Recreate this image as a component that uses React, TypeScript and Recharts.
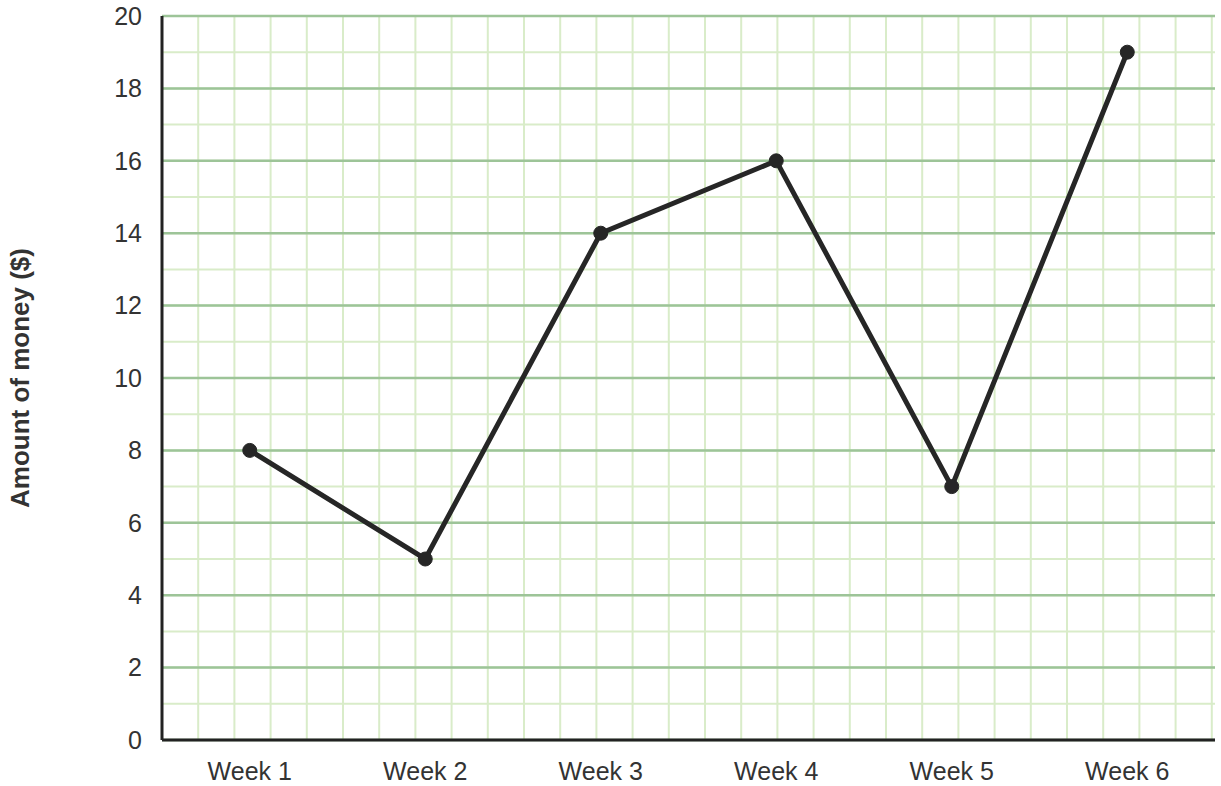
import { LineChart, Line, XAxis, YAxis, CartesianGrid, Label } from 'recharts';

const weeks = ['Week 1', 'Week 2', 'Week 3', 'Week 4', 'Week 5', 'Week 6'];
const money = [8, 5, 14, 16, 7, 19];
const majorTicks = [0, 2, 4, 6, 8, 10, 12, 14, 16, 18, 20];
const minorTicks = [0, 1, 2, 3, 4, 5, 6, 7, 8, 9, 10, 11, 12, 13, 14, 15, 16, 17, 18, 19, 20];

const data = weeks.map((w, i) => ({ week: w, amount: money[i] }));

const FONT = 'Arial, "Liberation Sans", Helvetica, sans-serif';

// map y values to pixels from the plot offset (domain is 0..20)
const yPixels = (ticks: number[]) => ({ offset }: any) =>
    ticks.map(t => offset.top + offset.height - (t / 20) * offset.height);

// square grid: vertical spacing equals one y-unit
const squareColumns = ({ offset }: any) => {
    const unit = offset.height / 20;
    const pts: number[] = [];
    for (let x = offset.left; x <= offset.left + offset.width + 0.5; x += unit) pts.push(x);
    return pts;
};

export default function App() {
    return (
        <div style={{ position: 'absolute', left: 0, top: 0, width: 1221, height: 786, background: '#fff' }}>
            <LineChart width={1221} height={786} data={data} margin={{ top: 16, right: 6, bottom: 16, left: 0 }}>
                <CartesianGrid
                    stroke="#d9ecc9"
                    strokeWidth={2}
                    verticalCoordinatesGenerator={squareColumns}
                    horizontalCoordinatesGenerator={yPixels(minorTicks)}
                />
                <CartesianGrid
                    stroke="#9dc498"
                    strokeWidth={2.5}
                    vertical={false}
                    horizontalCoordinatesGenerator={yPixels(majorTicks)}
                />
                <XAxis
                    dataKey="week"
                    height={30}
                    padding={{ left: 0, right: 0 }}
                    scale="band"
                    axisLine={{ stroke: '#222', strokeWidth: 3 }}
                    tickLine={false}
                    tickSize={0}
                    tickMargin={22}
                    tick={{ fill: '#333', fontSize: 25, fontFamily: FONT }}
                />
                <YAxis
                    type="number"
                    domain={[0, 20]}
                    ticks={majorTicks}
                    width={162}
                    axisLine={{ stroke: '#222', strokeWidth: 3 }}
                    tickLine={false}
                    tickSize={0}
                    tickMargin={20}
                    tick={{ fill: '#333', fontSize: 25, fontFamily: FONT }}
                >
                    <Label
                        value="Amount of money ($)"
                        angle={-90}
                        position="insideLeft"
                        offset={20}
                        style={{ fill: '#333', fontSize: 26, fontWeight: 700, fontFamily: FONT, textAnchor: 'middle' }}
                    />
                </YAxis>
                <Line
                    type="linear"
                    dataKey="amount"
                    stroke="#262626"
                    strokeWidth={5}
                    dot={{ r: 7, fill: '#262626', stroke: '#262626', strokeWidth: 1 }}
                    activeDot={false}
                    isAnimationActive={false}
                />
            </LineChart>
        </div>
    );
}
